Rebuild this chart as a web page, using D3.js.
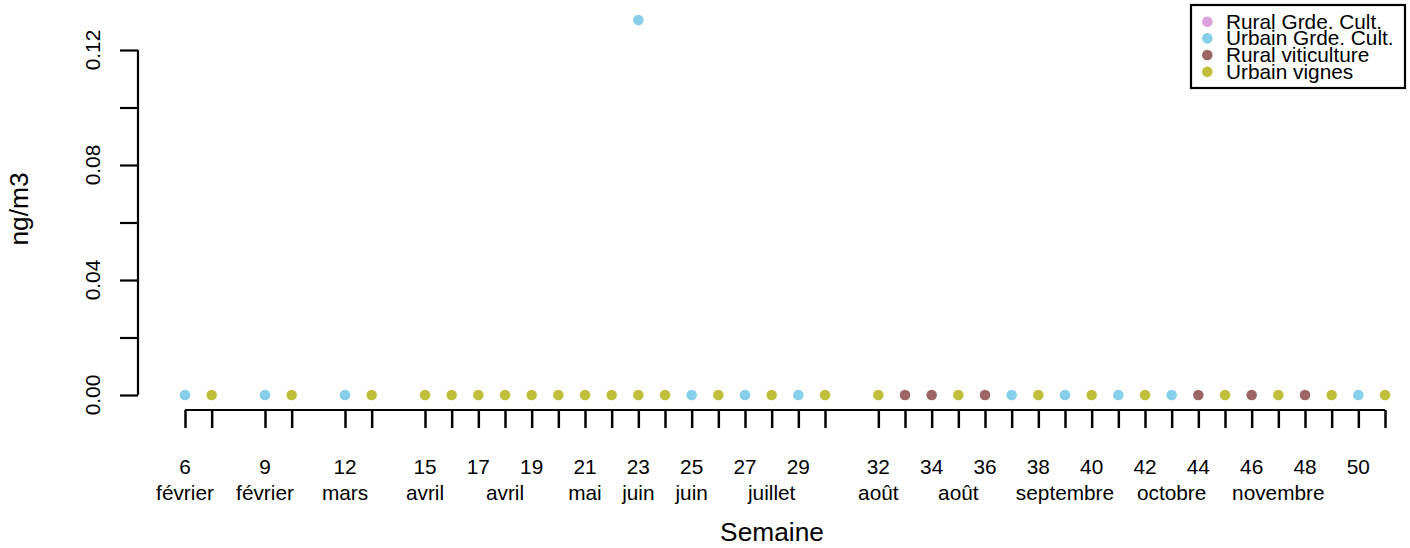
<!DOCTYPE html>
<html>
<head>
<meta charset="utf-8">
<script src="https://cdn.jsdelivr.net/npm/d3@7"></script>
<style>
  html, body { margin: 0; padding: 0; background: #fff; }
  svg { display: block; }
  text { font-family: "Liberation Sans", Arial, Helvetica, sans-serif; fill: #000; }
</style>
</head>
<body>
<svg id="chart" width="1410" height="548"></svg>
<script>
// ---- data ----
const weeks = [6,7,9,10,12,13,15,16,17,18,19,20,21,22,23,24,25,26,27,28,29,30,
               32,33,34,35,36,37,38,39,40,41,42,43,44,45,46,47,48,49,50,51];
const weekLabels = [6,9,12,15,17,19,21,23,25,27,29,32,34,36,38,40,42,44,46,48,50];
const monthLabelWeeks = [6,9,12,15,18,21,23,25,28,32,35,39,43,47];
const monthLabelTexts = ["février","février","mars","avril","avril","mai","juin","juin",
                         "juillet","août","août","septembre","octobre","novembre"];
const yTicks = [0,0.02,0.04,0.06,0.08,0.10,0.12];
const yTickLabels = [0,0.04,0.08,0.12];

const seriesNames = ["Rural Grde. Cult.","Urbain Grde. Cult.","Rural viticulture","Urbain vignes"];
const seriesColors = ["#DDA0DD","#87CEEB","#9B6565","#C0BE3A"];

const ruralGCWeeks = [];
const ruralGCValues = [];
const urbainGCWeeks = [6,9,12,23,25,27,29,37,39,41,43,50];
const urbainGCValues = [0,0,0,0.1304,0,0,0,0,0,0,0,0];
const ruralVitiWeeks = [33,34,36,44,46,48];
const ruralVitiValues = [0,0,0,0,0,0];
const urbainVignesWeeks = [7,10,13,15,16,17,18,19,20,21,22,23,24,26,28,30,32,35,38,40,42,45,47,49,51];
const urbainVignesValues = [0,0,0,0,0,0,0,0,0,0,0,0,0,0,0,0,0,0,0,0,0,0,0,0,0];

const seriesWeeks = [ruralGCWeeks, urbainGCWeeks, ruralVitiWeeks, urbainVignesWeeks];
const seriesValues = [ruralGCValues, urbainGCValues, ruralVitiValues, urbainVignesValues];

// ---- drawing ----
const svg = d3.select("#chart");
const axisFont = 20.8;
const labFont = 26.3;

const x = d3.scaleLinear().domain([6, 51]).range([185, 1385]);
const y = d3.scaleLinear().domain([0, 0.12]).range([395, 50]);

const axisX = 138;   // y-axis line position
const axisY = 410;   // x-axis line position
const lw = 2.2;

// Y axis
const yAxisG = svg.append("g").attr("transform", `translate(${axisX},0)`);
const yAxis = d3.axisLeft(y).tickValues(yTicks).tickSize(18).tickFormat("");
yAxisG.call(yAxis);
yAxisG.select(".domain").attr("d", `M0,${y(0.12)}V${y(0)}`).attr("stroke", "#000").attr("stroke-width", lw).attr("fill","none");
yAxisG.selectAll(".tick line").attr("stroke", "#000").attr("stroke-width", lw);
yAxisG.selectAll(".tick-label").data(yTickLabels).enter().append("text")
  .attr("transform", d => `translate(${100 - axisX},${y(d)}) rotate(-90)`)
  .attr("text-anchor", "middle")
  .style("font-size", axisFont + "px")
  .text(d => d3.format(".2f")(d));

// X axis
const xAxisG = svg.append("g").attr("transform", `translate(0,${axisY})`);
const xAxis = d3.axisBottom(x).tickValues(weeks).tickSize(18).tickFormat("");
xAxisG.call(xAxis);
xAxisG.select(".domain").attr("d", `M${x(6)},0H${x(51)}`).attr("stroke", "#000").attr("stroke-width", lw).attr("fill","none");
xAxisG.selectAll(".tick line").attr("stroke", "#000").attr("stroke-width", 2.5);
xAxisG.selectAll(".wk-label").data(weekLabels).enter().append("text")
  .attr("x", d => x(d)).attr("y", 474 - axisY)
  .attr("text-anchor", "middle")
  .style("font-size", axisFont + "px")
  .text(d => d);
xAxisG.selectAll(".mo-label").data(monthLabelWeeks).enter().append("text")
  .attr("x", d => x(d)).attr("y", 500 - axisY)
  .attr("text-anchor", "middle")
  .style("font-size", axisFont + "px")
  .text((d, i) => monthLabelTexts[i]);

// Axis titles
svg.append("text").attr("x", 772).attr("y", 541)
  .attr("text-anchor", "middle").style("font-size", labFont + "px").text("Semaine");
svg.append("text").attr("transform", `translate(28,209) rotate(-90)`)
  .attr("text-anchor", "middle").style("font-size", labFont + "px").text("ng/m3");

// Points
seriesNames.forEach((name, si) => {
  const pts = seriesWeeks[si].map((w, i) => ({w, v: seriesValues[si][i]}));
  svg.append("g").selectAll("circle").data(pts).enter().append("circle")
    .attr("cx", d => x(d.w)).attr("cy", d => y(d.v)).attr("r", 5.3)
    .attr("fill", seriesColors[si]);
});

// Legend
const lg = svg.append("g");
lg.append("rect").attr("x", 1191).attr("y", 5).attr("width", 214).attr("height", 83)
  .attr("fill", "#fff").attr("stroke", "#000").attr("stroke-width", lw);
seriesNames.forEach((name, i) => {
  const cy = 21.7 + i * 16.67;
  lg.append("circle").attr("cx", 1207.3).attr("cy", cy).attr("r", 5.3).attr("fill", seriesColors[i]);
  lg.append("text").attr("x", 1226).attr("y", cy + 7)
    .style("font-size", axisFont + "px").text(name);
});
</script>
</body>
</html>
